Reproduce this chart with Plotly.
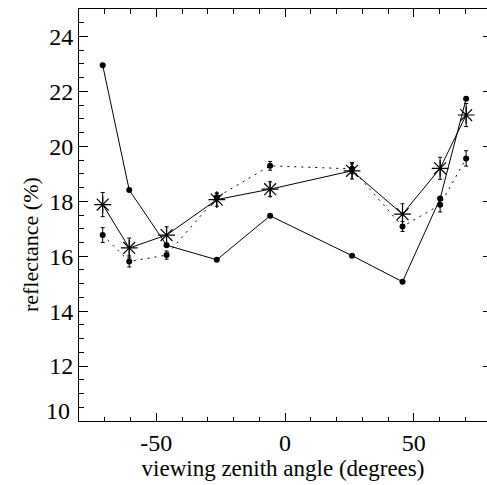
import plotly.graph_objects as go

# viewing zenith angles (degrees)
angles = [-70.8, -60.5, -46.0, -26.5, -5.8, 26.0, 45.6, 60.2, 70.3]

# series 1: filled circles, solid line, no error bars
refl_solid = [22.95, 18.41, 16.40, 15.87, 17.47, 16.02, 15.07, 18.10, 21.73]

# series 2: asterisks, solid line, error bars
refl_star = [17.88, 16.30, 16.77, 18.06, 18.44, 19.11, 17.53, 19.20, 21.14]
err_star = [0.44, 0.36, 0.30, 0.24, 0.27, 0.30, 0.38, 0.40, 0.42]

# series 3: filled circles, dotted line, error bars
refl_dot = [16.77, 15.81, 16.04, 18.15, 19.29, 19.18, 17.08, 17.87, 19.56]
err_dot = [0.27, 0.20, 0.15, 0.15, 0.16, 0.18, 0.18, 0.26, 0.28]

x_ticks = [-50, 0, 50]
y_ticks = [10, 12, 14, 16, 18, 20, 22, 24]

FONT = "Liberation Serif"

fig = go.Figure()

fig.add_trace(go.Scatter(
    x=angles, y=refl_solid, mode="lines+markers",
    line=dict(color="black", width=1),
    marker=dict(symbol="circle", size=6, color="black"),
    showlegend=False))

fig.add_trace(go.Scatter(
    x=angles, y=refl_dot, mode="lines+markers",
    line=dict(color="black", width=1, dash="2px,5px"),
    marker=dict(symbol="circle", size=6, color="black"),
    error_y=dict(type="data", array=err_dot, color="black", thickness=1, width=2),
    showlegend=False))

fig.add_trace(go.Scatter(
    x=angles, y=refl_star, mode="lines+markers",
    line=dict(color="black", width=1),
    marker=dict(symbol="asterisk-open", size=14, color="black",
                line=dict(color="black", width=1.2)),
    error_y=dict(type="data", array=err_star, color="black", thickness=1, width=2),
    showlegend=False))

# dummy trace for right-side ticks
fig.add_trace(go.Scatter(x=[0], y=[15], yaxis="y2", mode="markers",
                         marker=dict(opacity=0), showlegend=False, hoverinfo="skip"))

# lowest y label is drawn lifted off the x axis, as in the reference
y_ticktext = ["" if v == y_ticks[0] else str(v) for v in y_ticks]

fig.update_layout(
    width=487, height=485,
    margin=dict(l=79, r=0, t=9, b=64),
    paper_bgcolor="white", plot_bgcolor="white",
    font=dict(family=FONT, size=24, color="black"),
    xaxis=dict(
        range=[-80, 78.4], showgrid=False, zeroline=False,
        showline=True, linecolor="black", linewidth=1, mirror="ticks",
        ticks="inside", ticklen=8, tickwidth=1, tickcolor="black",
        tickvals=x_ticks, ticktext=[str(v) for v in x_ticks],
        minor=dict(dtick=10, tick0=0, ticks="inside", ticklen=4.5,
                   tickcolor="black", tickwidth=1, showgrid=False),
        title=dict(text="viewing zenith angle (degrees)",
                   font=dict(family=FONT, size=23), standoff=4),
        tickfont=dict(family=FONT, size=24),
    ),
    yaxis=dict(
        range=[10, 25], showgrid=False, zeroline=False,
        showline=True, linecolor="black", linewidth=1, mirror=False,
        ticks="inside", ticklen=9, tickwidth=1, tickcolor="black",
        tickvals=y_ticks, ticktext=y_ticktext,
        minor=dict(dtick=0.5, tick0=0, ticks="inside", ticklen=4.5,
                   tickcolor="black", tickwidth=1, showgrid=False),
        tickfont=dict(family=FONT, size=24),
    ),
    yaxis2=dict(
        range=[10, 25], overlaying="y", side="right", showgrid=False,
        zeroline=False, showline=False, showticklabels=False,
        ticks="inside", ticklen=4, tickwidth=1, tickcolor="black",
        tickvals=y_ticks,
    ),
    annotations=[
        dict(text="reflectance (%)", xref="paper", yref="paper",
             x=-0.12, y=0.427, xanchor="center", yanchor="middle",
             textangle=-90, showarrow=False,
             font=dict(family=FONT, size=22, color="black")),
        dict(text=str(y_ticks[0]), xref="paper", yref="y",
             x=-0.017, y=y_ticks[0] + 0.35, xanchor="right", yanchor="middle",
             showarrow=False,
             font=dict(family=FONT, size=24, color="black")),
    ],
)

fig.write_html("out.html")
